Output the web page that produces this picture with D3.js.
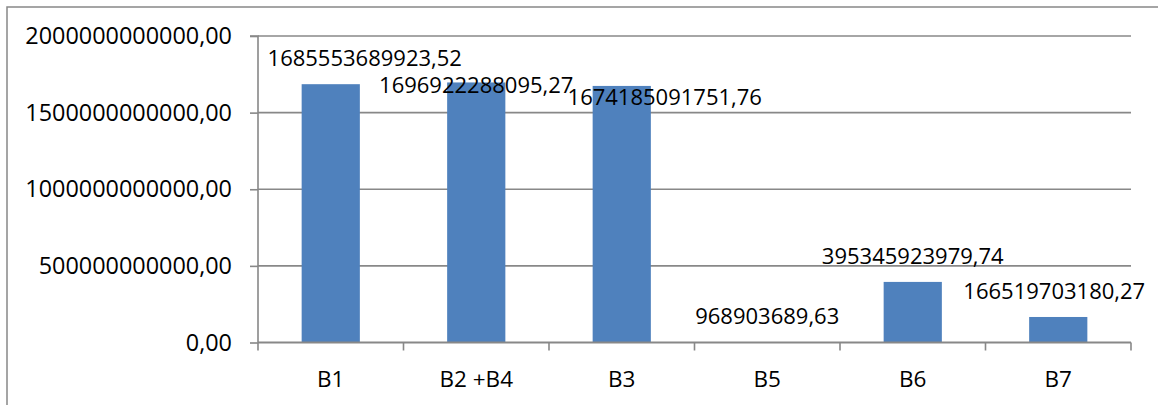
<!DOCTYPE html>
<html>
<head>
<meta charset="utf-8">
<script src="https://cdn.jsdelivr.net/npm/d3@7"></script>
<style>
  html, body { margin: 0; padding: 0; background: #fff; }
  svg { display: block; }
  text { font-family: "Open Sans", sans-serif; fill: #000; }
</style>
</head>
<body>
<svg id="chart" width="1158" height="405"></svg>
<script>
const categories = ["B1", "B2 +B4", "B3", "B5", "B6", "B7"];
const values = [1685553689923.52, 1696922288095.27, 1674185091751.76, 968903689.63, 395345923979.74, 166519703180.27];
const valueLabels = ["1685553689923,52", "1696922288095,27", "1674185091751,76", "968903689,63", "395345923979,74", "166519703180,27"];
const yTicks = [0, 500000000000, 1000000000000, 1500000000000, 2000000000000];
const yTickLabels = ["0,00", "500000000000,00", "1000000000000,00", "1500000000000,00", "2000000000000,00"];

// manual label displacements (as in the original chart), in px: [dx, dy]
const labelShift = [[34, 0], [0, 29], [43, 37], [0, 0], [0, 0], [-4, 0]];

const svg = d3.select("#chart");
const plot = { left: 258, right: 1131, top: 36, bottom: 342.5 };
const gridColor = "#888888";

// chart area border (extends beyond right/bottom edge)
svg.append("rect")
  .attr("x", 7).attr("y", 7)
  .attr("width", 1200).attr("height", 450)
  .attr("fill", "none").attr("stroke", gridColor).attr("stroke-width", 1.5);

const x = d3.scaleBand()
  .domain(categories)
  .range([plot.left, plot.right])
  .paddingInner(0.6)
  .paddingOuter(0.3);

const y = d3.scaleLinear()
  .domain([0, 2000000000000])
  .range([plot.bottom, plot.top]);

// gridlines
svg.append("g").selectAll("line")
  .data(yTicks.slice(1))
  .join("line")
  .attr("x1", plot.left).attr("x2", plot.right)
  .attr("y1", d => y(d)).attr("y2", d => y(d))
  .attr("stroke", gridColor).attr("stroke-width", 1.6);

// bars
svg.append("g").selectAll("rect")
  .data(values)
  .join("rect")
  .attr("x", (d, i) => x(categories[i]))
  .attr("width", x.bandwidth())
  .attr("y", d => y(d))
  .attr("height", d => y(0) - y(d))
  .attr("fill", "#4F81BD");

// y axis
const yAxis = d3.axisLeft(y)
  .tickValues(yTicks)
  .tickFormat((d, i) => yTickLabels[i])
  .tickSize(8)
  .tickPadding(18);
const gy = svg.append("g")
  .attr("transform", `translate(${plot.left},0)`)
  .call(yAxis);
gy.select(".domain").attr("stroke", gridColor).attr("stroke-width", 1.6)
  .attr("d", `M-8,${plot.top}H0V${plot.bottom}`);
gy.selectAll(".tick line").attr("stroke", gridColor).attr("stroke-width", 1.6);
gy.selectAll(".tick text")
  .style("font-family", "'Open Sans', sans-serif")
  .style("font-size", "23.4px")
  .attr("fill", "#000");

// x axis with ticks at category boundaries
const gx = svg.append("g")
  .attr("transform", `translate(0,${plot.bottom})`);
gx.append("line")
  .attr("x1", plot.left).attr("x2", plot.right)
  .attr("y1", 0).attr("y2", 0)
  .attr("stroke", gridColor).attr("stroke-width", 1.8);
const step = x.step();
const boundaries = d3.range(categories.length + 1).map(i => plot.left + i * step);
gx.selectAll("line.tk")
  .data(boundaries)
  .join("line")
  .attr("class", "tk")
  .attr("x1", d => d).attr("x2", d => d)
  .attr("y1", 0).attr("y2", 8)
  .attr("stroke", gridColor).attr("stroke-width", 1.6);
gx.selectAll("text")
  .data(categories)
  .join("text")
  .attr("x", d => x(d) + x.bandwidth() / 2)
  .attr("y", 44.5)
  .attr("text-anchor", "middle")
  .style("font-size", "22.5px")
  .text(d => d);

// data labels
svg.append("g").selectAll("text")
  .data(values)
  .join("text")
  .attr("x", (d, i) => x(categories[i]) + x.bandwidth() / 2 + labelShift[i][0])
  .attr("y", (d, i) => y(d) - 18 + labelShift[i][1])
  .attr("text-anchor", "middle")
  .style("font-size", "22px")
  .text((d, i) => valueLabels[i]);
</script>
</body>
</html>
